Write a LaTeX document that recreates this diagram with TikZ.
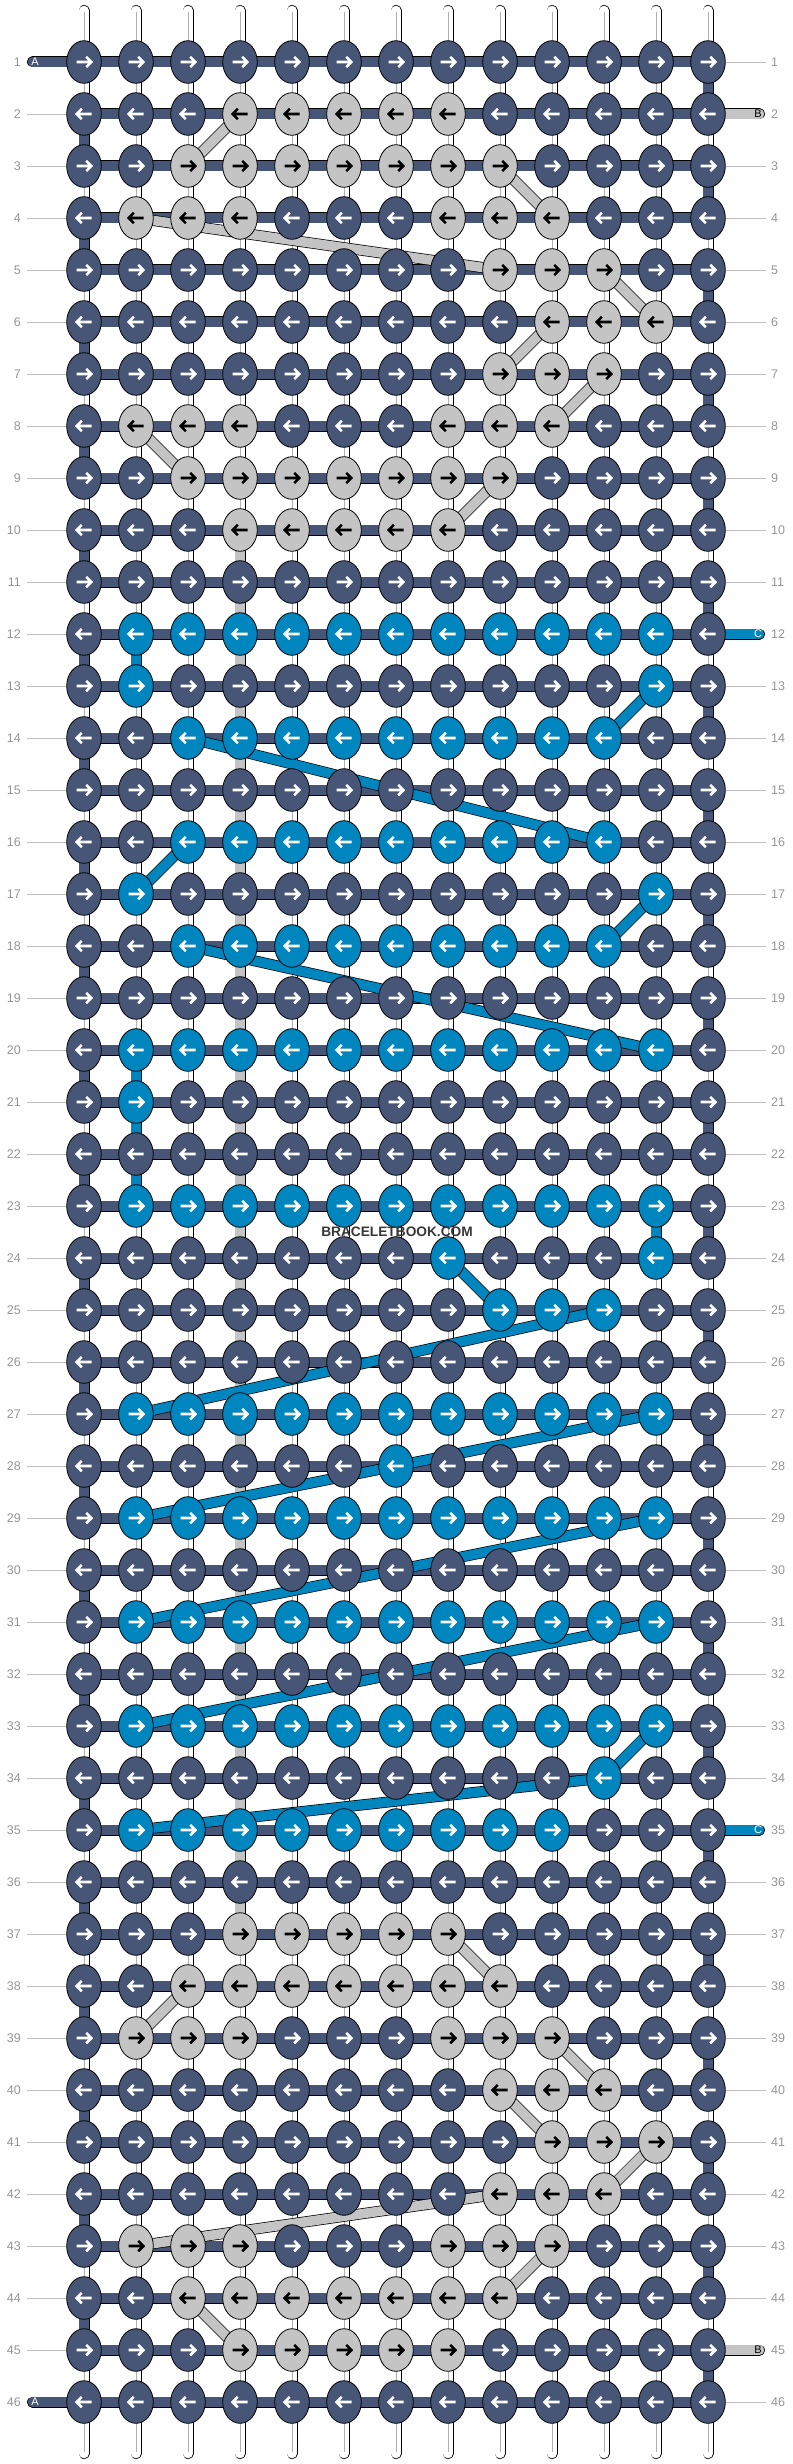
\documentclass[tikz,border=0pt]{standalone}
\usepackage{fontspec}
\setmainfont{Liberation Sans}
\usetikzlibrary{shapes.geometric}
\definecolor{knotD}{RGB}{71,85,119}
\definecolor{knotG}{RGB}{196,196,196}
\definecolor{knotB}{RGB}{0,134,190}
\colorlet{arrD}{white}
\colorlet{arrG}{black}
\colorlet{arrB}{white}
\definecolor{numgray}{RGB}{150,150,150}
\definecolor{linegray}{RGB}{190,190,190}
\definecolor{centergray}{RGB}{175,175,175}
\definecolor{wmgray}{RGB}{55,55,55}
\pgfdeclarelayer{back}
\pgfdeclarelayer{mid}
\pgfsetlayers{back,mid,main}
\tikzset{
  knot/.style={ellipse, draw=black, line width=0.8pt, minimum width=34.6pt, minimum height=42.6pt, inner sep=0pt},
  arrowline/.style={line width=2.6pt, line cap=butt, line join=miter},
  band/.style={draw=black, line width=0.7pt, double=#1, double distance=9.6pt},
  stub/.style={band=#1, line cap=round},
  rowline/.style={draw=linegray, line width=0.8pt},
  rownum/.style={text=numgray, font=\fontsize{12.5}{13}\selectfont, inner sep=0pt},
  stublabel/.style={font=\fontsize{11}{11}\selectfont, inner sep=0pt},
}
\begin{document}
\begin{tikzpicture}[x=1pt, y=-1pt]
\useasboundingbox (0,0) rectangle (792,2464);
\begin{pgfonlayer}{back}
  \fill[white] (0,0) rectangle (792,2464);
\end{pgfonlayer}

% knots
\foreach \r/\row in {
 1/{D,D,D,D,D,D,D,D,D,D,D,D,D},
 2/{D,D,D,G,G,G,G,G,D,D,D,D,D},
 3/{D,D,G,G,G,G,G,G,G,D,D,D,D},
 4/{D,G,G,G,D,D,D,G,G,G,D,D,D},
 5/{D,D,D,D,D,D,D,D,G,G,G,D,D},
 6/{D,D,D,D,D,D,D,D,D,G,G,G,D},
 7/{D,D,D,D,D,D,D,D,G,G,G,D,D},
 8/{D,G,G,G,D,D,D,G,G,G,D,D,D},
 9/{D,D,G,G,G,G,G,G,G,D,D,D,D},
 10/{D,D,D,G,G,G,G,G,D,D,D,D,D},
 11/{D,D,D,D,D,D,D,D,D,D,D,D,D},
 12/{D,B,B,B,B,B,B,B,B,B,B,B,D},
 13/{D,B,D,D,D,D,D,D,D,D,D,B,D},
 14/{D,D,B,B,B,B,B,B,B,B,B,D,D},
 15/{D,D,D,D,D,D,D,D,D,D,D,D,D},
 16/{D,D,B,B,B,B,B,B,B,B,B,D,D},
 17/{D,B,D,D,D,D,D,D,D,D,D,B,D},
 18/{D,D,B,B,B,B,B,B,B,B,B,D,D},
 19/{D,D,D,D,D,D,D,D,D,D,D,D,D},
 20/{D,B,B,B,B,B,B,B,B,B,B,B,D},
 21/{D,B,D,D,D,D,D,D,D,D,D,D,D},
 22/{D,D,D,D,D,D,D,D,D,D,D,D,D},
 23/{D,B,B,B,B,B,B,B,B,B,B,B,D},
 24/{D,D,D,D,D,D,D,B,D,D,D,B,D},
 25/{D,D,D,D,D,D,D,D,B,B,B,D,D},
 26/{D,D,D,D,D,D,D,D,D,D,D,D,D},
 27/{D,B,B,B,B,B,B,B,B,B,B,B,D},
 28/{D,D,D,D,D,D,B,D,D,D,D,D,D},
 29/{D,B,B,B,B,B,B,B,B,B,B,B,D},
 30/{D,D,D,D,D,D,D,D,D,D,D,D,D},
 31/{D,B,B,B,B,B,B,B,B,B,B,B,D},
 32/{D,D,D,D,D,D,D,D,D,D,D,D,D},
 33/{D,B,B,B,B,B,B,B,B,B,B,B,D},
 34/{D,D,D,D,D,D,D,D,D,D,B,D,D},
 35/{D,B,B,B,B,B,B,B,B,B,D,D,D},
 36/{D,D,D,D,D,D,D,D,D,D,D,D,D},
 37/{D,D,D,G,G,G,G,G,D,D,D,D,D},
 38/{D,D,G,G,G,G,G,G,G,D,D,D,D},
 39/{D,G,G,G,D,D,D,G,G,G,D,D,D},
 40/{D,D,D,D,D,D,D,D,G,G,G,D,D},
 41/{D,D,D,D,D,D,D,D,D,G,G,G,D},
 42/{D,D,D,D,D,D,D,D,G,G,G,D,D},
 43/{D,G,G,G,D,D,D,G,G,G,D,D,D},
 44/{D,D,G,G,G,G,G,G,G,D,D,D,D},
 45/{D,D,D,G,G,G,G,G,D,D,D,D,D},
 46/{D,D,D,D,D,D,D,D,D,D,D,D,D}}{
  \pgfmathsetmacro\yy{62+52*(\r-1)}
  \foreach [count=\c] \k in \row {
    \pgfmathsetmacro\xx{84+52*(\c-1)}
    \node[knot, fill=knot\k] (k-\r-\c) at (\xx,\yy) {};
    \ifodd\r
      \draw[arrowline, draw=arr\k] (\xx-7.5,\yy) -- (\xx+6.5,\yy) (\xx+2.2,\yy-5.2) -- (\xx+7.4,\yy) -- (\xx+2.2,\yy+5.2);
    \else
      \draw[arrowline, draw=arr\k] (\xx+7.5,\yy) -- (\xx-6.5,\yy) (\xx-2.2,\yy-5.2) -- (\xx-7.4,\yy) -- (\xx-2.2,\yy+5.2);
    \fi
  }
}

% vertical strings and horizontal threads
\begin{pgfonlayer}{back}
  \foreach \c in {1,...,13}{
    \pgfmathsetmacro\xx{84+52*(\c-1)}
    \coordinate (top-\c) at (\xx,10.5);
    \coordinate (bot-\c) at (\xx,2453.5);
    \draw[band=white, line cap=round] (top-\c) -- (bot-\c);
    \draw[centergray, line width=0.9pt] ([yshift=-2pt]top-\c) -- ([yshift=2pt]bot-\c);
  }
  \foreach \r in {1,...,46}{
    \draw[band=knotD] (k-\r-1.center) -- (k-\r-13.center);
  }
\end{pgfonlayer}

% coloured vertical segments and diagonal carries
\begin{pgfonlayer}{mid}
  \foreach \r in {1,3,...,45}{
    \pgfmathtruncatemacro\rn{\r+1}
    \draw[band=knotD] (k-\r-13.center) -- (k-\rn-13.center);
  }
  \foreach \r in {2,4,...,44}{
    \pgfmathtruncatemacro\rn{\r+1}
    \draw[band=knotD] (k-\r-1.center) -- (k-\rn-1.center);
  }
  \draw[band=knotG] (k-10-4.center) -- (k-37-4.center);
  \draw[band=knotB] (k-12-2.center) -- (k-13-2.center);
  \draw[band=knotB] (k-20-2.center) -- (k-23-2.center);
  \draw[band=knotB] (k-23-12.center) -- (k-24-12.center);
  \foreach \ra/\ca/\rb/\cb in {2/4/3/3, 3/9/4/10, 4/2/5/9, 5/11/6/12, 6/10/7/9, 7/11/8/10, 8/2/9/3, 9/9/10/8,
      37/8/38/9, 38/3/39/2, 39/10/40/11, 40/9/41/10, 41/12/42/11, 42/9/43/2, 43/10/44/9, 44/3/45/4}{
    \draw[band=knotG] (k-\ra-\ca.center) -- (k-\rb-\cb.center);
  }
  \foreach \ra/\ca/\rb/\cb in {13/12/14/11, 14/3/16/11, 16/3/17/2, 17/12/18/11, 18/3/20/12, 24/8/25/9,
      25/11/27/2, 27/12/29/2, 29/12/31/2, 31/12/33/2, 33/12/34/11, 34/11/35/2}{
    \draw[band=knotB] (k-\ra-\ca.center) -- (k-\rb-\cb.center);
  }
\end{pgfonlayer}

% string ends
\begin{pgfonlayer}{back}
  \coordinate (endA1) at (32.5,62);
  \coordinate (endA46) at (32.5,2402);
  \coordinate (endB2) at (759.5,114);
  \coordinate (endB45) at (759.5,2350);
  \coordinate (endC12) at (759.5,634);
  \coordinate (endC35) at (759.5,1830);
  \draw[stub=knotD] (endA1) -- (k-1-1.center);
  \draw[stub=knotD] (endA46) -- (k-46-1.center);
  \draw[stub=knotG] (k-2-13.center) -- (endB2);
  \draw[stub=knotG] (k-45-13.center) -- (endB45);
  \draw[stub=knotB] (k-12-13.center) -- (endC12);
  \draw[stub=knotB] (k-35-13.center) -- (endC35);
\end{pgfonlayer}
\node[stublabel, text=white] (labA1) at (35,62) {A};
\node[stublabel, text=white] (labA46) at (35,2402) {A};
\node[stublabel, text=black] (labB2) at (758,114) {B};
\node[stublabel, text=black] (labB45) at (758,2350) {B};
\node[stublabel, text=white] (labC12) at (758,634) {C};
\node[stublabel, text=white] (labC35) at (758,1830) {C};

% row numbers
\foreach \r in {1,...,46}{
  \pgfmathsetmacro\yy{62+52*(\r-1)}
  \node[rownum, anchor=east] (ln-\r) at (21,\yy) {\r};
  \node[rownum, anchor=west] (rn-\r) at (771,\yy) {\r};
  \ifnum\r=1 \else\ifnum\r=46 \else
    \draw[rowline] ([xshift=6pt]ln-\r.east) -- (k-\r-1.west);
  \fi\fi
  \ifnum\r=2 \else\ifnum\r=12 \else\ifnum\r=35 \else\ifnum\r=45 \else
    \draw[rowline] (k-\r-13.east) -- ([xshift=-5pt]rn-\r.west);
  \fi\fi\fi\fi
}

\node[font=\bfseries\fontsize{13.7}{14}\selectfont, text=wmgray, inner sep=0pt] (wm) at (397,1232) {BRACELETBOOK.COM};
\end{tikzpicture}
\end{document}
